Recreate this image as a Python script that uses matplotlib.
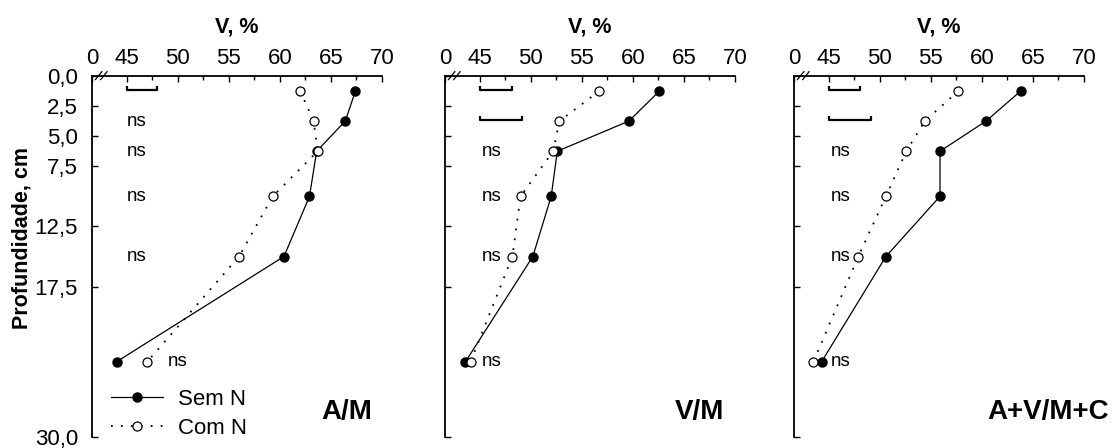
import matplotlib
matplotlib.use('Agg')
import matplotlib.pyplot as plt
from matplotlib.ticker import FixedLocator

plt.rcParams['font.family'] = ['Liberation Sans', 'DejaVu Sans']

# soil depth (layer midpoints, cm)
depths = [1.25, 3.75, 6.25, 10.0, 15.0, 23.75]

panel_names = ['A/M', 'V/M', 'A+V/M+C']

# V, % without and with N
sem_n = [[67.4, 66.4, 63.6, 62.9, 60.4, 44.0],
         [62.6, 59.6, 52.6, 52.0, 50.2, 43.6],
         [63.8, 60.4, 55.9, 55.9, 50.6, 44.3]]
com_n = [[62.0, 63.3, 63.7, 59.3, 56.0, 47.0],
         [56.7, 52.8, 52.2, 49.0, 48.2, 44.1],
         [57.7, 54.4, 52.6, 50.6, 47.9, 43.5]]

# LSD bar length per depth (None = ns)
lsd = [[3.0, None, None, None, None, None],
       [3.2, 4.1, None, None, None, None],
       [3.1, 4.1, None, None, None, None]]

x_ticks = [45, 50, 55, 60, 65, 70]
y_ticks = [0, 2.5, 5, 7.5, 12.5, 17.5, 30]
y_labels = ['0,0', '2,5', '5,0', '7,5', '12,5', '17,5', '30,0']

# layout
x_left = 41.6
lefts = [92, 445, 794]
ns_last_x = [49.0, 45.2, 45.2]

fig = plt.figure(figsize=(11.15, 4.48), dpi=100)

for i in range(3):
    ax = fig.add_axes([lefts[i] / 1115, 1 - 437 / 448, 290 / 1115, 361 / 448])
    ax.plot(sem_n[i], depths, '-o', color='black', lw=0.9, ms=6.5,
            mfc='black', mec='black', label='Sem N', zorder=2)
    ax.plot(com_n[i], depths, linestyle=(0, (1, 4.5)), marker='o', color='black',
            lw=1.3, ms=6.5, mfc='white', mec='black', mew=0.9,
            label='Com N', zorder=3)

    for d, v in zip(depths, lsd[i]):
        if v is None:
            xt = ns_last_x[i] if d == depths[-1] else 45.0 + (0.2 if i else 0)
            ax.text(xt, d, 'ns', fontsize=13.5, ha='left', va='center')
        else:
            yb = d - 0.1
            ax.plot([45, 45, 45 + v, 45 + v], [yb - 0.3, yb, yb, yb - 0.3],
                    color='black', lw=1.6, solid_capstyle='butt')

    ax.set_xlim(x_left, 70)
    ax.set_ylim(30, 0)
    ax.xaxis.set_ticks_position('top')
    ax.xaxis.set_label_position('top')
    ax.xaxis.set_major_locator(FixedLocator([x_left] + x_ticks))
    ax.set_xticklabels(['0'] + [str(t) for t in x_ticks])
    ax.xaxis.set_minor_locator(FixedLocator([47.5, 52.5, 57.5, 62.5, 67.5]))
    ax.set_yticks(y_ticks)
    ax.set_yticklabels(y_labels if i == 0 else [])
    ax.tick_params(which='both', direction='in', labelsize=16, width=1.0)
    ax.tick_params(which='major', length=4, pad=5)
    ax.tick_params(which='minor', length=3)
    ax.tick_params(axis='y', which='major', pad=10)
    ax.tick_params(axis='x', which='both', bottom=False, top=True)
    ax.tick_params(axis='y', which='both', right=False)
    for s in ['right', 'bottom']:
        ax.spines[s].set_visible(False)
    for s in ['top', 'left']:
        ax.spines[s].set_linewidth(1.3)

    ax.set_xlabel('V, %', fontsize=15.5, fontweight='bold', labelpad=11)
    if i == 0:
        ax.set_ylabel('Profundidade, cm', fontsize=15.5, fontweight='bold')
        ax.yaxis.set_label_coords(-0.205, 0.551)
        ax.legend(loc='lower left', bbox_to_anchor=(0.066, -0.006), frameon=False,
                  fontsize=16, numpoints=1, handlelength=2.35, handletextpad=0.65,
                  labelspacing=0.36, borderpad=0, borderaxespad=0)

    # axis break marks
    for dx in (0.0, 0.018):
        ax.plot([0.012 + dx, 0.034 + dx], [0.99, 1.012], transform=ax.transAxes,
                color='black', lw=0.9, clip_on=False)

    ax.text(66.5, 27.9, panel_names[i], fontsize=20, fontweight='bold',
            ha='center', va='center')

fig.savefig('out.png', dpi=100)
